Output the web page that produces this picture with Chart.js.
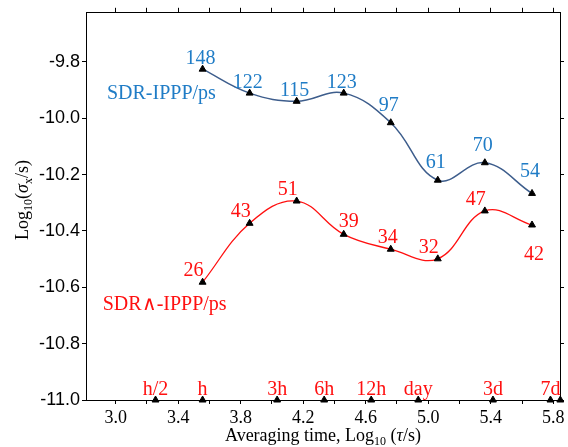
<!DOCTYPE html>
<html>
<head>
<title>SDR IPPP stability</title>
<script src="https://cdn.jsdelivr.net/npm/chart.js@4"></script>
<style>
    body { margin: 0; background: #fff; }
</style>
</head>
<body>
<canvas id="myChart" width="568" height="447"></canvas>
<script>
// averaging times (log10 s) of the two solutions
const tauLog = [3.556, 3.857, 4.158, 4.459, 4.760, 5.061, 5.362, 5.664];
const ippValues = [-9.826, -9.911, -9.940, -9.911, -10.016, -10.220, -10.158, -10.267];
const ippCounts = ['148', '122', '115', '123', '97', '61', '70', '54'];
const ippLabelSide = ['above', 'above', 'above', 'above', 'high', 'high', 'high', 'higher'];
const hatValues = [-10.582, -10.373, -10.294, -10.412, -10.465, -10.499, -10.329, -10.379];
const hatCounts = ['26', '43', '51', '39', '34', '32', '47', '42'];
const hatLabelSide = ['left', 'left', 'left', 'right', 'above', 'left', 'left', 'below'];

// reference time spans marked on the bottom axis
const spanLog = [3.255, 3.556, 4.033, 4.334, 4.635, 4.936, 5.414, 5.782, 5.845];
const spanNames = ['h/2', 'h', '3h', '6h', '12h', 'day', '3d', '7d', ''];

const annotNames = ['SDR-IPPP/ps', 'SDR\u2227-IPPP/ps'];
const annotX = [2.944, 2.917];
const annotY = [-9.931, -10.680];

const yTicks = [-11.0, -10.8, -10.6, -10.4, -10.2, -10.0, -9.8];

const BLUE_TXT = '#1f7cc6';
const BLUE_LINE = '#3d5d8c';
const RED = '#ff1010';
const SERIF = "'Liberation Serif', 'Times New Roman', serif";
const SANS = "'Liberation Sans', Arial, sans-serif";

const toPts = (xs, ys) => xs.map((x, i) => ({ x: x, y: ys[i] }));

// labels next to the points + free text + axis titles
const labelPlugin = {
    id: 'labels',
    afterDatasetsDraw(chart) {
        const c = chart.ctx;
        const sx = chart.scales.x, sy = chart.scales.y;
        c.save();
        c.font = '20px ' + SERIF;
        c.textBaseline = 'alphabetic';

        c.fillStyle = BLUE_TXT;
        c.textAlign = 'center';
        const lift = { above: 5, high: 12, higher: 16 };
        chart.getDatasetMeta(0).data.forEach((p, i) => {
            c.fillText(ippCounts[i], p.x - 2, p.y - lift[ippLabelSide[i]]);
        });

        c.fillStyle = RED;
        chart.getDatasetMeta(1).data.forEach((p, i) => {
            const side = hatLabelSide[i];
            if (side === 'left') c.fillText(hatCounts[i], p.x - 9, p.y - 6);
            else if (side === 'right') c.fillText(hatCounts[i], p.x + 5, p.y - 7);
            else if (side === 'below') c.fillText(hatCounts[i], p.x + 2, p.y + 35);
            else c.fillText(hatCounts[i], p.x - 3, p.y - 6);
        });

        chart.getDatasetMeta(2).data.forEach((p, i) => {
            if (spanNames[i]) c.fillText(spanNames[i], p.x, p.y - 5);
        });

        c.textAlign = 'left';
        c.fillStyle = BLUE_TXT;
        c.fillText(annotNames[0], sx.getPixelForValue(annotX[0]), sy.getPixelForValue(annotY[0]));
        c.fillStyle = RED;
        c.fillText(annotNames[1], sx.getPixelForValue(annotX[1]), sy.getPixelForValue(annotY[1]));

        // axis titles with subscripts
        c.fillStyle = '#000';
        const big = '18px ' + SERIF, small = '12px ' + SERIF, ital = 'italic 18px ' + SERIF;
        const parts = (segs) => {
            let w = 0;
            segs.forEach(s => { c.font = s[1]; w += c.measureText(s[0]).width; });
            return w;
        };
        const drawSegs = (segs, x0, y0) => {
            let x = x0;
            segs.forEach(s => {
                c.font = s[1];
                c.fillText(s[0], x, y0 + s[2]);
                x += c.measureText(s[0]).width;
            });
        };
        const xTitle = [['Averaging time, Log', big, 0], ['10', small, 4], [' (', big, 0], ['\u03c4', ital, 0], ['/s)', big, 0]];
        const xc = (chart.chartArea.left + chart.chartArea.right) / 2;
        drawSegs(xTitle, xc - parts(xTitle) / 2, 441);

        const yTitle = [['Log', big, 0], ['10', small, 4], ['(', big, 0], ['\u03c3', ital, 0], ['x', small, 4], ['/s)', big, 0]];
        c.translate(28, 200);
        c.rotate(-Math.PI / 2);
        drawSegs(yTitle, -parts(yTitle) / 2, 0);
        c.restore();
    }
};

const axisBase = {
    type: 'linear',
    border: { color: '#000', width: 1 },
    grid: { drawOnChartArea: false, color: '#000', tickLength: 4 }
};

new Chart(document.getElementById('myChart'), {
    type: 'line',
    data: {
        datasets: [{
            data: toPts(tauLog, ippValues),
            borderColor: BLUE_LINE,
            borderWidth: 1.5,
            tension: 0.4,
            pointStyle: 'triangle',
            pointRadius: 4,
            pointBackgroundColor: '#000',
            pointBorderColor: '#000',
            pointBorderWidth: 1
        }, {
            data: toPts(tauLog, hatValues),
            borderColor: RED,
            borderWidth: 1.3,
            tension: 0.4,
            pointStyle: 'triangle',
            pointRadius: 4,
            pointBackgroundColor: '#000',
            pointBorderColor: '#000',
            pointBorderWidth: 1
        }, {
            data: spanLog.map(x => ({ x: x, y: yTicks[0] })),
            showLine: false,
            clip: false,
            pointStyle: 'triangle',
            pointRadius: 4,
            pointBackgroundColor: '#000',
            pointBorderColor: '#000',
            pointBorderWidth: 1
        }]
    },
    options: {
        responsive: false,
        animation: false,
        layout: { padding: 0 },
        plugins: { legend: { display: false }, tooltip: { enabled: false } },
        scales: {
            x: {
                ...axisBase,
                position: 'bottom',
                min: 2.81, max: 5.843,
                afterFit: s => { s.height = 47; },
                ticks: {
                    stepSize: 0.2, includeBounds: false, autoSkip: false, maxRotation: 0,
                    padding: 3, color: '#000',
                    font: { family: SERIF, size: 18 },
                    callback: v => (Math.round(v * 10) % 4 === 2 ? v.toFixed(1) : '')
                }
            },
            x2: {
                ...axisBase,
                position: 'top',
                min: 2.81, max: 5.843,
                grid: { drawOnChartArea: false, color: '#000', tickLength: 5 },
                afterFit: s => { s.height = 10; },
                ticks: { display: false, stepSize: 0.2, includeBounds: false }
            },
            y: {
                ...axisBase,
                position: 'left',
                min: yTicks[0], max: -9.626,
                afterFit: s => { s.width = 86; },
                ticks: {
                    stepSize: 0.2, includeBounds: false, autoSkip: false,
                    padding: 2, color: '#000',
                    font: { family: SANS, size: 18 },
                    callback: v => v.toFixed(1)
                }
            },
            y2: {
                ...axisBase,
                position: 'right',
                min: yTicks[0], max: -9.626,
                afterFit: s => { s.width = 8; },
                ticks: { display: false, stepSize: 0.2, includeBounds: false }
            }
        }
    },
    plugins: [labelPlugin]
});
</script>
</body>
</html>
